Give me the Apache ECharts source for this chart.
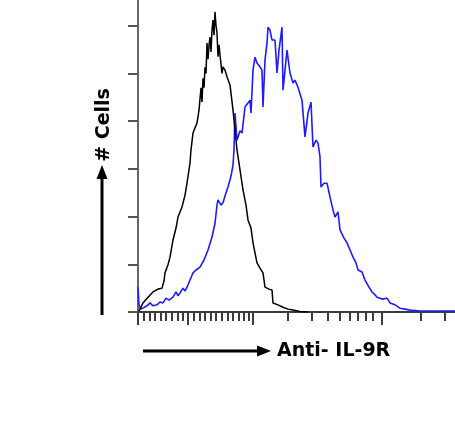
<!DOCTYPE html>
<html>
<head>
<meta charset="utf-8">
<script src="https://cdn.jsdelivr.net/npm/echarts@6/dist/echarts.min.js"></script>
<style>
html,body{margin:0;padding:0;background:#fff;}
#chart{width:455px;height:429px;}
</style>
</head>
<body>
<div id="chart"></div>
<script>
// Display-scale fluorescence (0..317 axis units) and cell counts
var isotypeData = [[1,2],[5,19],[10,31],[15,42],[20,48],[24,50],[26,65],[27,82],[30,99],[32,115],[35,151],[38,176],[40,199],[44,220],[47,245],[49,270],[52,312],[53,340],[55,375],[57,386],[59,396],[61,423],[63,470],[64,440],[65,490],[66,470],[67,513],[68,500],[69,564],[70,530],[71,559],[72,576],[73,545],[74,591],[75,612],[76,580],[77,629],[78,601],[79,585],[80,535],[81,560],[82,539],[84,500],[85,514],[87,507],[89,493],[92,476],[95,423],[97,381],[99,340],[102,298],[105,256],[108,224],[110,193],[113,176],[115,145],[119,103],[122,92],[125,82],[127,52],[131,48],[134,46],[135,19],[140,15],[145,10],[150,6],[155,4],[162,1],[170,0]];

var antibodyData = [[0,52],[1,15],[3,6],[5,10],[9,13],[12,19],[15,13],[19,15],[22,21],[25,19],[28,29],[31,25],[35,31],[38,42],[40,34],[42,40],[45,50],[47,44],[49,52],[52,67],[55,82],[58,88],[62,94],[66,109],[70,130],[74,157],[77,186],[79,224],[80,235],[83,224],[85,229],[88,250],[90,262],[93,285],[95,308],[96,340],[97,417],[99,360],[100,360],[102,380],[104,375],[107,430],[110,438],[112,444],[113,417],[115,507],[117,534],[119,522],[122,514],[124,507],[125,430],[127,528],[129,564],[130,597],[132,591],[134,570],[137,570],[139,501],[141,549],[144,597],[145,465],[147,507],[149,549],[152,501],[155,480],[157,486],[160,471],[164,444],[167,367],[170,417],[173,440],[175,346],[178,360],[180,354],[182,325],[183,262],[186,270],[189,270],[192,241],[195,214],[197,199],[200,210],[202,172],[206,155],[209,145],[212,130],[215,115],[218,103],[220,88],[224,84],[227,67],[231,52],[234,42],[237,36],[239,31],[244,27],[249,29],[252,19],[257,15],[262,8],[267,6],[272,4],[282,2],[292,2],[302,2],[317,2]];

var xMajorTicks = [0, 50, 115, 244];
var xMinorTicks = [5.5, 11.5, 17, 22.5, 28, 33.5, 39.5, 44.5, 56, 61.5, 67, 72.5, 78, 83.5, 89.5, 95, 100.5, 106, 111, 150, 174, 190, 202, 212, 220, 228, 235, 283, 307];
var yTicks = [0, 100, 200, 300, 400, 500, 600];
var xLabel = 'Anti- IL-9R';
var yLabel = '# Cells';

var chart = echarts.init(document.getElementById('chart'), null, {renderer: 'canvas'});
var axisColor = '#3c3c3c';
chart.setOption({
  animation: false,
  backgroundColor: '#ffffff',
  grid: {left: 138, right: 0, top: 0, bottom: 117},
  xAxis: [{
    type: 'value', min: 0, max: 317, position: 'bottom',
    axisLine: {show: true, lineStyle: {color: axisColor, width: 2}},
    axisTick: {show: true, customValues: xMajorTicks, length: 13, lineStyle: {color: axisColor, width: 2}},
    axisLabel: {show: false},
    splitLine: {show: false}
  }, {
    type: 'value', min: 0, max: 317, position: 'bottom', offset: 0,
    axisLine: {show: false},
    axisTick: {show: true, customValues: xMinorTicks, length: 9, lineStyle: {color: axisColor, width: 2}},
    axisLabel: {show: false},
    splitLine: {show: false}
  }],
  yAxis: {
    type: 'value', min: 0, max: 654,
    axisLine: {show: true, lineStyle: {color: '#666', width: 2}},
    axisTick: {show: true, customValues: yTicks, length: 10, lineStyle: {color: '#555', width: 2}},
    axisLabel: {show: false},
    splitLine: {show: false}
  },
  series: [{
    type: 'line', xAxisIndex: 0, data: isotypeData, showSymbol: false,
    lineStyle: {color: '#000000', width: 1.5}, z: 3
  }, {
    type: 'line', xAxisIndex: 0, data: antibodyData, showSymbol: false,
    lineStyle: {color: '#1c1cff', width: 1.6}, z: 2
  }],
  graphic: [
    {type: 'rect', shape: {x: 100.5, y: 176, width: 3, height: 139}, style: {fill: '#000'}},
    {type: 'polygon', shape: {points: [[102, 165], [96.5, 179], [107.5, 179]]}, style: {fill: '#000'}},
    {type: 'text', x: 104, y: 125, rotation: Math.PI / 2,
      style: {text: yLabel, font: 'bold 19px "DejaVu Sans"', fill: '#000', align: 'center', verticalAlign: 'middle'}},
    {type: 'rect', shape: {x: 143, y: 349.5, width: 117, height: 3}, style: {fill: '#000'}},
    {type: 'polygon', shape: {points: [[271, 351], [257, 345.5], [257, 356.5]]}, style: {fill: '#000'}},
    {type: 'text', x: 277, y: 351,
      style: {text: xLabel, font: 'bold 19px "DejaVu Sans"', fill: '#000', align: 'left', verticalAlign: 'middle'}}
  ]
});
</script>
</body>
</html>
